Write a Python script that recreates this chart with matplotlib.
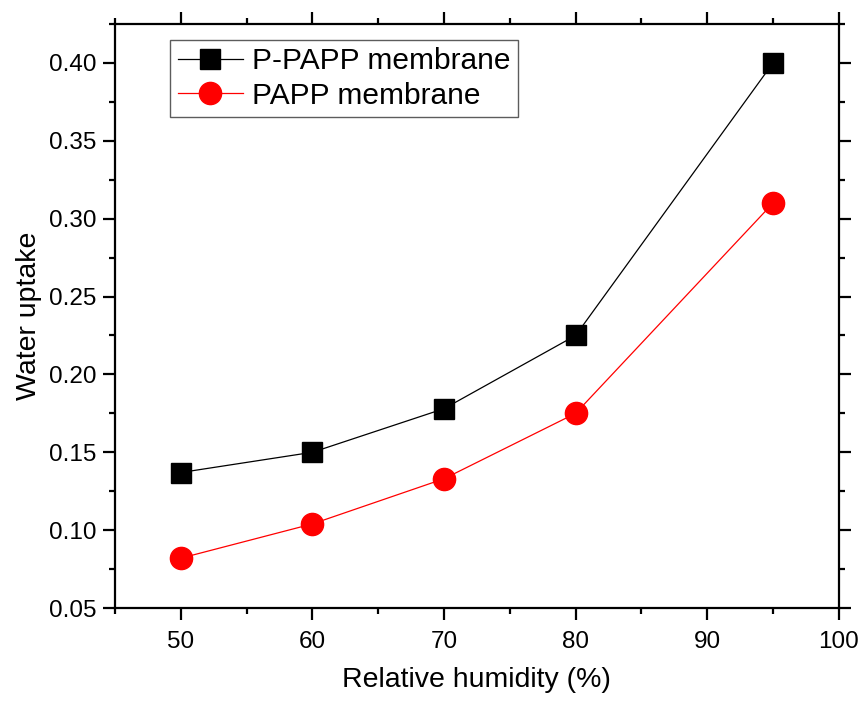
import matplotlib.pyplot as plt
from matplotlib.ticker import MultipleLocator

plt.rcParams['font.family'] = ['Liberation Sans', 'DejaVu Sans']

# Water uptake vs relative humidity
humidity = [50, 60, 70, 80, 95]
p_papp = [0.137, 0.150, 0.178, 0.225, 0.400]
papp = [0.082, 0.104, 0.133, 0.175, 0.310]

fig = plt.figure(figsize=(8.63, 7.02), dpi=100)
ax = fig.add_axes([0.1333, 0.1339, 0.8387, 0.8319])

ax.plot(humidity, p_papp, color='black', lw=0.9, marker='s', ms=15,
        mfc='black', mec='black', label='P-PAPP membrane')
ax.plot(humidity, papp, color='red', lw=0.9, marker='o', ms=16,
        mfc='red', mec='red', label='PAPP membrane')

ax.set_xlim(45, 100)
ax.set_ylim(0.05, 0.425)
ax.xaxis.set_major_locator(MultipleLocator(10))
ax.xaxis.set_minor_locator(MultipleLocator(5))
ax.yaxis.set_major_locator(MultipleLocator(0.05))
ax.yaxis.set_minor_locator(MultipleLocator(0.025))
ax.yaxis.set_major_formatter(plt.FormatStrFormatter('%.2f'))

for s in ax.spines.values():
    s.set_linewidth(1.6)
ax.tick_params(which='both', direction='out', top=True, right=True,
               width=1.6, labelsize=17.5, colors='black')
ax.tick_params(which='major', length=8.5, pad=5)
ax.tick_params(axis='x', which='major', pad=8)
ax.tick_params(which='minor', length=4.5)

ax.set_xlabel('Relative humidity (%)', fontsize=20.5, labelpad=10)
ax.set_ylabel('Water uptake', fontsize=20.5, labelpad=5)

leg = ax.legend(loc='upper left', bbox_to_anchor=(0.076, 0.973), fontsize=21.5,
                frameon=True, fancybox=False, edgecolor='#333333',
                handlelength=2.2, handletextpad=0.3, borderpad=0.25,
                labelspacing=0.22, borderaxespad=0)
leg.get_frame().set_linewidth(1.0)

fig.savefig('out.png', dpi=100)
